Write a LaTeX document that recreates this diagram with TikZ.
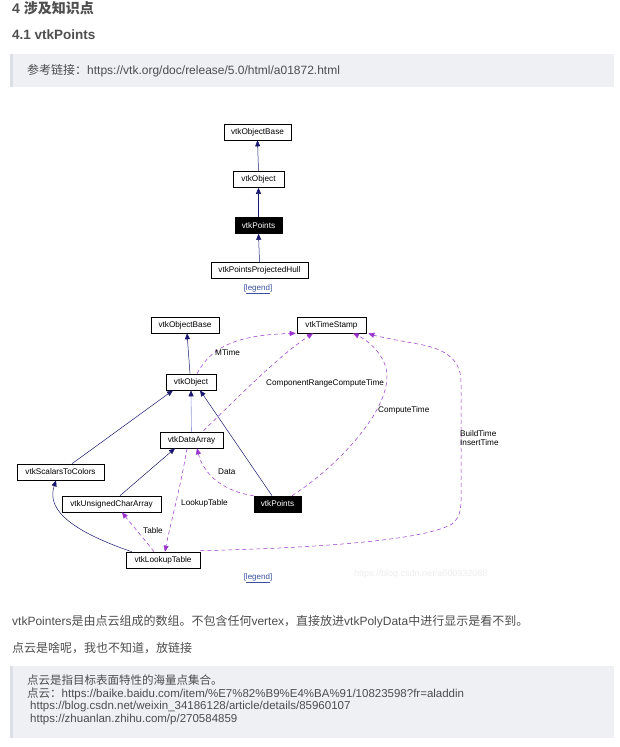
\documentclass[tikz,border=0pt]{standalone}
\usepackage{fontspec}
\setmainfont{Liberation Sans}
\newfontfamily\cjk{Noto Sans CJK SC}
\usetikzlibrary{arrows.meta,calc}
\definecolor{navy}{HTML}{191970}
\definecolor{purp}{HTML}{9A32CD}
\definecolor{lightnavy}{HTML}{9A9AD8}
\definecolor{txt}{HTML}{4D4D4D}
\definecolor{head}{HTML}{4F4F4F}
\definecolor{boxbg}{HTML}{EEF0F4}
\definecolor{boxbar}{HTML}{DCDFE4}
\definecolor{linkblue}{HTML}{3A4FA0}
\definecolor{wmark}{HTML}{EDEDED}
\begin{document}
\begin{tikzpicture}[x=1pt,y=-1pt,
  cls/.style={draw=black, line width=0.6pt, fill=white, minimum height=16pt, inner sep=0pt,
    font=\fontsize{8.2}{9}\selectfont, text=black},
  hl/.style={cls, fill=black, text=white},
  inh/.style={navy, line width=0.5pt, -{Triangle[length=6pt,width=5pt]}},
  inhl/.style={lightnavy, line width=0.6pt, -{Triangle[length=6pt,width=5pt,color=navy]}},
  use/.style={purp, line width=0.5pt, dash pattern=on 4pt off 3pt, -{Triangle[length=6pt,width=5pt]}},
  elabel/.style={font=\fontsize{8.2}{9.5}\selectfont, inner sep=0pt, anchor=west, text=black},
  legendtxt/.style={font=\fontsize{8}{9}\selectfont, inner sep=0pt, text=linkblue},
  body/.style={inner sep=0pt, anchor=west, text=txt, font=\fontsize{12}{14}\selectfont},
  quote/.style={inner sep=0pt, anchor=west, text=txt, font=\fontsize{11.5}{13}\selectfont}]

\useasboundingbox (0,0) rectangle (620,747);
\fill[white] (0,0) rectangle (620,747);

% headings
\node[inner sep=0pt, anchor=west, text=head, font=\fontsize{14}{16}\selectfont\bfseries] (h1) at (12,8) {4 {\cjk\bfseries 涉及知识点}};
\node[inner sep=0pt, anchor=west, text=head, font=\fontsize{13.5}{16}\selectfont\bfseries] (h2) at (12,35) {4.1 vtkPoints};

% quote box 1
\fill[boxbg] (10,54) rectangle (614,87);
\fill[boxbar] (10,54) rectangle (13,87);
\node[quote, font=\fontsize{12}{14}\selectfont] (q1) at (27,70.5) {{\cjk 参考链接：}https://vtk.org/doc/release/5.0/html/a01872.html};

% ---- top diagram ----
\node[cls, minimum width=67pt] (tA) at (257.5,132) {vtkObjectBase};
\node[cls, minimum width=51pt] (tB) at (258.5,179.5) {vtkObject};
\node[hl,  minimum width=47pt] (tC) at (258.5,225.5) {vtkPoints};
\node[cls, minimum width=97pt] (tD) at (259.5,270.5) {vtkPointsProjectedHull};
\node[legendtxt] (tL) at (258,289) {[\underline{legend}]};
\draw[inh] (tB.north) -- (tA.south);
\draw[inh] (tC.north) -- (tB.south);
\draw[inh] (tD.north) -- (tC.south);

% ---- bottom diagram ----
\node[cls, minimum width=68pt] (bOB) at (185,325) {vtkObjectBase};
\node[cls, minimum width=69pt] (bTS) at (331.5,325) {vtkTimeStamp};
\node[cls, minimum width=50pt] (bO) at (191,382) {vtkObject};
\node[cls, minimum width=63pt] (bDA) at (191.5,440) {vtkDataArray};
\node[cls, minimum width=87pt] (bSC) at (60.5,472) {vtkScalarsToColors};
\node[cls, minimum width=99pt] (bUC) at (111.5,504) {vtkUnsignedCharArray};
\node[hl,  minimum width=47pt] (bP) at (277.5,504) {vtkPoints};
\node[cls, minimum width=74pt] (bLT) at (163,560) {vtkLookupTable};
\node[legendtxt] (bL) at (258,578) {[\underline{legend}]};
\node[inner sep=0pt, anchor=west, text=wmark, font=\fontsize{9}{10}\selectfont] (wm) at (354,574) {https://blog.csdn.net/a600932088};

% inheritance
\draw[inh] ($(bO.north)+(-1,0)$) -- ($(bOB.south)+(2,0)$);
\draw[inhl] (bDA.north) -- (bO.south);
\draw[inh] ($(bSC.north)+(11.5,0)$) -- ($(bO.south)+(-18,0)$);
\draw[inh] ($(bP.north)+(-5.5,0)$) -- ($(bO.south)+(9,0)$);
\draw[inh] ($(bUC.north)+(8.5,0)$) -- ($(bDA.south)+(-16.5,0)$);
\draw[inh] ($(bLT.north west)+(6,0)$) .. controls (60,527) and (48,505) .. ($(bSC.south)+(-4.5,0)$);

% usage (dashed)
\draw[use] ($(bO.north)+(6,0)$) .. controls (212,345) and (240,335) .. ($(bTS.south west)+(-1,0)$);
\node[elabel] (lM) at (215,353) {MTime};

\draw[use] ($(bDA.north)+(12,-1)$) .. controls (240,395) and (280,355) .. ($(bTS.south)+(-18.5,0)$);
\node[elabel] (lC) at (266,383) {ComponentRangeComputeTime};

\draw[use] ($(bP.north)+(14.5,0)$) .. controls (340,465) and (395,405) .. (386,368)
  .. controls (381,350) and (365,339) .. ($(bTS.south)+(21.5,0)$);
\node[elabel] (lCT) at (378,410) {ComputeTime};

\draw[use] ($(bLT.north east)+(0,-1)$) .. controls (320,548) and (425,540) .. (452,524)
  .. controls (462,516) and (461,505) .. (461,490) -- (461,382)
  .. controls (461,356) and (440,348) .. (418,344)
  .. controls (395,340) and (376,336) .. ($(bTS.south east)+(2,0)$);
\node[elabel, align=left, anchor=north west, font=\fontsize{8.2}{9.5}\selectfont] (lB) at (460,430) {BuildTime\\InsertTime};

\draw[use] (bP.north west) .. controls (226,492) and (204,476) .. ($(bDA.south)+(5.5,0)$);
\node[elabel] (lD) at (218,472) {Data};

\draw[use] ($(bDA.south)+(-4.5,0)$) .. controls (180,490) and (170,525) .. ($(bLT.north)+(2,0)$);
\node[elabel] (lL) at (181,503) {LookupTable};

\draw[use] ($(bLT.north)+(-9,0)$) .. controls (145,540) and (132,525) .. ($(bUC.south)+(10.5,0)$);
\node[elabel] (lT) at (143,531) {Table};

% body text
\node[body] (p1) at (12,622) {vtkPointers{\cjk 是由点云组成的数组。不包含任何}vertex{\cjk ，直接放进}vtkPolyData{\cjk 中进行显示是看不到。}};
\node[body] (p2) at (12,648) {{\cjk 点云是啥呢，我也不知道，放链接}};

% quote box 2
\fill[boxbg] (10,666) rectangle (614,738);
\fill[boxbar] (10,666) rectangle (13,738);
\node[quote] (r1) at (27,680.5) {{\cjk 点云是指目标表面特性的海量点集合。}};
\node[quote] (r2) at (27,694) {{\cjk 点云：}https://baike.baidu.com/item/\%E7\%82\%B9\%E4\%BA\%91/10823598?fr=aladdin};
\node[quote] (r3) at (30,707) {https://blog.csdn.net/weixin\_34186128/article/details/85960107};
\node[quote] (r4) at (30,720) {https://zhuanlan.zhihu.com/p/270584859};
\end{tikzpicture}
\end{document}
